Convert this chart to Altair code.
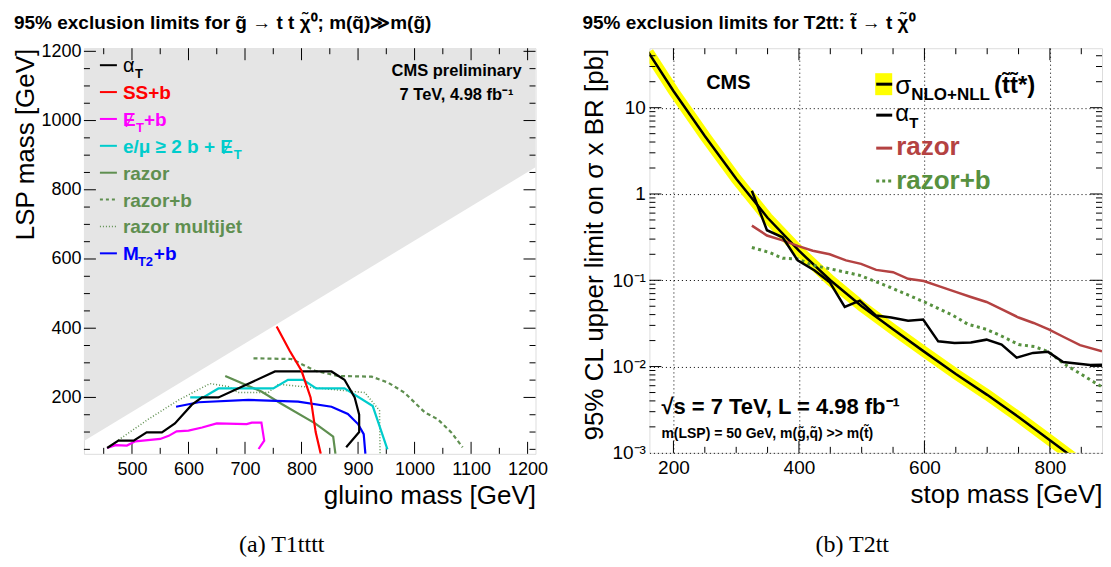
import altair as alt
import pandas as pd

SANS = "Liberation Sans"
SERIF = "Liberation Serif"

# ---------------- Left panel: T1tttt ----------------
kin_gluino = [415, 1214]
kin_lsp = [74, 865]
kin_top = 1209

at_gluino = [456, 476, 503, 526, 553, 576, 606, 624, 653, 753, 853, 876, 894, 902, 902, 879]
at_lsp = [54, 75, 75, 99, 99, 125, 179, 200, 200, 275, 275, 251, 200, 150, 100, 56]
ssb_gluino = [756, 779, 800, 816, 825, 834]
ssb_lsp = [405, 335, 277, 200, 100, 37]
metb_gluino = [456, 471, 491, 506, 550, 565, 579, 600, 624, 650, 703, 712, 729, 734, 724]
metb_lsp = [54, 62, 61, 73, 80, 89, 102, 104, 113, 125, 123, 127, 127, 75, 51]
lep_gluino = [603, 626, 653, 750, 776, 803, 826, 876, 926, 952]
lep_lsp = [200, 200, 226, 226, 251, 251, 226, 226, 175, 50]
razor_gluino = [665, 729, 765, 824, 856, 860]
razor_lsp = [262, 217, 181, 125, 87, 37]
razorb_gluino = [715, 782, 824, 865, 924, 953, 982, 1018, 1041, 1065, 1085]
razorb_lsp = [313, 311, 277, 262, 260, 243, 214, 157, 137, 99, 56]
rmj_gluino = [476, 529, 582, 638, 671, 688, 741, 759, 912, 938, 939]
rmj_lsp = [77, 137, 192, 240, 231, 214, 214, 238, 214, 162, 37]
mt2b_gluino = [578, 618, 706, 794, 853, 882, 900, 910, 913]
mt2b_lsp = [173, 186, 193, 188, 173, 152, 123, 94, 37]

# ---------------- Right panel: T2tt ----------------
theory_m = [160, 200, 250, 300, 350, 400, 450, 500, 550, 600, 650, 700, 750, 800, 850]
theory_xs = [44, 15.6, 4.7, 1.5, 0.53, 0.22, 0.10, 0.050, 0.027, 0.0148, 0.0082, 0.0047, 0.0026, 0.0014, 0.00075]
alphaT_m = [325, 349, 374, 398, 425, 449, 473, 497, 523, 547, 574, 598, 622, 648, 674, 699, 723, 747, 773, 797, 821, 864, 883]
alphaT_xs = [1.09, 0.38, 0.315, 0.17, 0.13, 0.095, 0.049, 0.058, 0.039, 0.037, 0.034, 0.035, 0.0196, 0.0187,
             0.019, 0.0205, 0.018, 0.0127, 0.0144, 0.0148, 0.0113, 0.0104, 0.0105]
razorR_m = [325, 349, 374, 398, 422, 449, 475, 499, 523, 550, 574, 599, 624, 651, 674, 699, 726, 750, 774, 798, 822, 848, 883]
razorR_xs = [0.43, 0.33, 0.29, 0.25, 0.22, 0.20, 0.17, 0.155, 0.132, 0.124, 0.104, 0.098, 0.085, 0.073,
             0.064, 0.056, 0.045, 0.037, 0.032, 0.027, 0.022, 0.0177, 0.015]
razorbR_m = [325, 353, 374, 398, 422, 449, 497, 545, 600, 646, 669, 699, 726, 750, 776, 798, 822, 848, 883]
razorbR_xs = [0.24, 0.21, 0.18, 0.177, 0.149, 0.136, 0.114, 0.083, 0.056, 0.039, 0.031, 0.027, 0.022, 0.018,
              0.017, 0.0148, 0.0108, 0.0083, 0.0058]

WL, HL = 452, 406
WR, HR = 453, 405
xL = alt.Scale(domain=[415, 1214], nice=False, zero=False)
yL = alt.Scale(domain=[37, 1209], nice=False, zero=False)
xR = alt.Scale(domain=[161.7, 883], nice=False, zero=False)
yR = alt.Scale(type="log", domain=[0.001, 48.9], nice=False)

axis_common = dict(ticks=False, tickSize=0, domain=False, labelColor="black", titleColor="black",
                   labelFont=SANS, titleFont=SANS, titleFontWeight="normal", labelFlush=False,
                   labelOverlap=False, titleAnchor="end")
grid_kw = dict(grid=True, gridDash=[1, 3], gridColor="black", gridWidth=1, gridOpacity=1)
ylabel_expr = ("datum.value > 5 ? '10' : datum.value > 0.5 ? '1' : datum.value > 0.05 ? '10⁻¹' : "
               "datum.value > 0.005 ? '10⁻²' : '10⁻³'")

axXL = alt.Axis(values=list(range(500, 1201, 100)), format="d", title="gluino mass [GeV]", titleFontSize=26,
                titlePadding=4, labelFontSize=18, labelPadding=7, grid=False, **axis_common)
axYL = alt.Axis(values=list(range(200, 1201, 200)), format="d", title="LSP mass [GeV]", titleFontSize=26,
                titlePadding=2, labelFontSize=18, labelPadding=3, grid=False, **axis_common)
axXR = alt.Axis(values=[200, 400, 600, 800], format="d", title="stop mass [GeV]", titleFontSize=26,
                titlePadding=4, labelFontSize=19, labelPadding=6, **grid_kw, **axis_common)
axYR = alt.Axis(values=[0.001, 0.01, 0.1, 1, 10], labelExpr=ylabel_expr,
                title="95% CL upper limit on σ x BR [pb]", titleFontSize=26, titlePadding=4,
                labelFontSize=19, labelPadding=4, **grid_kw, **axis_common)
AX = {"L": (xL, yL, axXL, axYL), "R": (xR, yR, axXR, axYR)}

ONE = pd.DataFrame({"a": [0]})


def curve(xs, ys, p, color, width, dash=None):
    xsc, ysc, ax, ay = AX[p]
    df = pd.DataFrame({"x": xs, "y": ys, "i": list(range(len(xs)))})
    kw = dict(color=color, strokeWidth=width, clip=True)
    if dash:
        kw["strokeDash"] = dash
    return alt.Chart(df).mark_line(**kw).encode(
        x=alt.X("x:Q", scale=xsc, axis=ax),
        y=alt.Y("y:Q", scale=ysc, axis=ay),
        order="i:Q",
    )


def txt(s, x, y, size, color="black", bold=True, align="left", font=SANS):
    return alt.Chart(ONE).mark_text(
        text=s, font=font, fontSize=size, fontWeight="bold" if bold else "normal",
        color=color, align=align, baseline="alphabetic",
    ).encode(x=alt.value(x), y=alt.value(y))


def hline(x1, x2, y, color, width, dash=None):
    kw = dict(color=color, strokeWidth=width)
    if dash:
        kw["strokeDash"] = dash
    return alt.Chart(ONE).mark_rule(**kw).encode(x=alt.value(x1), x2=alt.value(x2), y=alt.value(y))


def ticks_x(vals, p, H, L):
    xsc, ysc, ax, ay = AX[p]
    b = alt.Chart(pd.DataFrame({"x": vals})).mark_rule(color="black", strokeWidth=1)
    return [
        b.encode(x=alt.X("x:Q", scale=xsc, axis=ax), y=alt.value(H), y2=alt.value(H - L)),
        b.encode(x=alt.X("x:Q", scale=xsc, axis=ax), y=alt.value(0), y2=alt.value(L)),
    ]


def ticks_y(vals, p, W, L):
    xsc, ysc, ax, ay = AX[p]
    b = alt.Chart(pd.DataFrame({"y": vals})).mark_rule(color="black", strokeWidth=1)
    return [
        b.encode(y=alt.Y("y:Q", scale=ysc, axis=ay), x=alt.value(0), x2=alt.value(L)),
        b.encode(y=alt.Y("y:Q", scale=ysc, axis=ay), x=alt.value(W), x2=alt.value(W - L)),
    ]


# ---------- Left panel ----------
gray = alt.Chart(pd.DataFrame({"x": kin_gluino, "y": kin_lsp})).mark_area(
    color="#e5e5e5", clip=True
).encode(
    x=alt.X("x:Q", scale=xL, axis=axXL),
    y=alt.Y("y:Q", scale=yL, axis=axYL),
    y2=alt.datum(kin_top),
)

GREEN_L = "#5f8f50"
left_layers = [gray]
left_layers += ticks_x([v for v in range(450, 1201, 50) if v % 100 != 0], "L", HL, 6)
left_layers += ticks_x(list(range(500, 1201, 100)), "L", HL, 12)
left_layers += ticks_y([v for v in range(50, 1201, 50) if v % 200 != 0], "L", WL, 6)
left_layers += ticks_y(list(range(200, 1201, 200)), "L", WL, 12)
left_layers += [
    curve(rmj_gluino, rmj_lsp, "L", GREEN_L, 1.5, [1, 2]),
    curve(razorb_gluino, razorb_lsp, "L", GREEN_L, 2.2, [4, 3]),
    curve(razor_gluino, razor_lsp, "L", GREEN_L, 2.2),
    curve(metb_gluino, metb_lsp, "L", "#ff00ff", 2.2),
    curve(mt2b_gluino, mt2b_lsp, "L", "#0000ff", 2.2),
    curve(lep_gluino, lep_lsp, "L", "#00cccc", 2.2),
    curve(at_gluino, at_lsp, "L", "black", 2.2),
    curve(ssb_gluino, ssb_lsp, "L", "#ff0000", 2.2),
]

# legend (left)
lx1, lx2, tx = 16, 33, 39
base = [24 + 26.9 * i for i in range(8)]
leg = []
leg += [hline(lx1, lx2, base[0] - 7, "black", 2), txt("α", tx, base[0], 20, "black", bold=False),
        txt("T", 51, base[0] + 6, 13, "black")]
leg += [hline(lx1, lx2, base[1] - 7, "#ff0000", 2), txt("SS+b", tx, base[1], 19, "#ff0000")]
leg += [hline(lx1, lx2, base[2] - 7, "#ff00ff", 2), txt("Ɇ", tx, base[2], 19, "#ff00ff"),
        txt("T", 52, base[2] + 6, 13, "#ff00ff"), txt("+b", 60, base[2], 19, "#ff00ff")]
leg += [hline(lx1, lx2, base[3] - 7, "#00cccc", 2), txt("e/μ ≥ 2 b + Ɇ", tx, base[3], 19, "#00cccc"),
        txt("T", 150, base[3] + 6, 13, "#00cccc")]
leg += [hline(lx1, lx2, base[4] - 7, GREEN_L, 2), txt("razor", tx, base[4], 19, GREEN_L)]
leg += [hline(lx1, lx2, base[5] - 7, GREEN_L, 2, [3, 3]), txt("razor+b", tx, base[5], 19, GREEN_L)]
leg += [hline(lx1, lx2, base[6] - 7, GREEN_L, 1.5, [1, 2]), txt("razor multijet", tx, base[6], 19, GREEN_L)]
leg += [hline(lx1, lx2, base[7] - 7, "#0000ff", 2), txt("M", tx, base[7], 19, "#0000ff"),
        txt("T2", 54, base[7] + 6, 13, "#0000ff"), txt("+b", 70, base[7], 19, "#0000ff")]
left_layers += leg
left_layers += [
    txt("CMS preliminary", 373, 28, 16.5, align="center"),
    txt("7 TeV, 4.98 fb⁻¹", 373, 52, 16.5, align="center"),
    txt("95% exclusion limits for g\u0303 → t t χ\u0303⁰; m(q\u0303)≫m(g\u0303)", -70, -19, 19),
    txt("(a) T1tttt", 198, 504, 24, bold=False, align="center", font=SERIF),
]
left = alt.layer(*left_layers).properties(width=WL, height=HL)

# ---------- Right panel ----------
minor_log = [k * 10.0 ** e for e in range(-3, 2) for k in range(2, 10) if k * 10.0 ** e < 48.9]
RAZOR_R = "#b44242"
GREEN_R = "#57913f"
right_layers = [curve(theory_m, theory_xs, "R", "#ffff00", 11)]
right_layers += ticks_x([v for v in range(200, 851, 50) if v % 200 != 0], "R", HR, 6)
right_layers += ticks_x([200, 400, 600, 800], "R", HR, 12)
right_layers += ticks_y(minor_log, "R", WR, 6)
right_layers += ticks_y([0.01, 0.1, 1, 10], "R", WR, 12)
right_layers += [
    curve(theory_m, theory_xs, "R", "black", 2.5),
    curve(razorbR_m, razorbR_xs, "R", GREEN_R, 3, [3, 3.5]),
    curve(razorR_m, razorR_xs, "R", RAZOR_R, 2.5),
    curve(alphaT_m, alphaT_xs, "R", "black", 2.5),
]
right_layers += [
    alt.Chart(ONE).mark_rect(color="#ffff00").encode(x=alt.value(226), x2=alt.value(243),
                                                     y=alt.value(25), y2=alt.value(47)),
    hline(227, 243, 36, "black", 3),
    txt("σ", 246, 46, 26, bold=False),
    txt("NLO+NLL", 262, 52, 17),
    txt("(t\u0303t\u0303*)", 345, 45, 24),
    hline(227, 243, 67, "black", 3),
    txt("α", 246, 73, 24, bold=False),
    txt("T", 260, 80, 15),
    hline(227, 243, 100, RAZOR_R, 3),
    txt("razor", 247, 107, 26, RAZOR_R),
    hline(227, 243, 133, GREEN_R, 3, [3, 3]),
    txt("razor+b", 247, 141, 26, GREEN_R),
    txt("CMS", 79, 41, 20, align="center"),
    txt("√s = 7 TeV, L = 4.98 fb⁻¹", 12, 366, 22),
    txt("m(LSP) = 50 GeV, m(g\u0303,q\u0303) >> m(t\u0303)", 12, 390, 14),
    txt("95% exclusion limits for T2tt: t\u0303 → t χ\u0303⁰", -67, -19, 19),
    txt("(b) T2tt", 203, 504, 24, bold=False, align="center", font=SERIF),
]
right = alt.layer(*right_layers).properties(width=WR, height=HR)

chart = alt.hconcat(left, right, spacing=33).properties(
    padding={"left": 4, "top": 5, "right": 0, "bottom": 0}
).configure_view(stroke="black", strokeWidth=2).configure(font=SANS, background="white")

chart.save("out.html", embed_options={"renderer": "svg", "actions": False})
